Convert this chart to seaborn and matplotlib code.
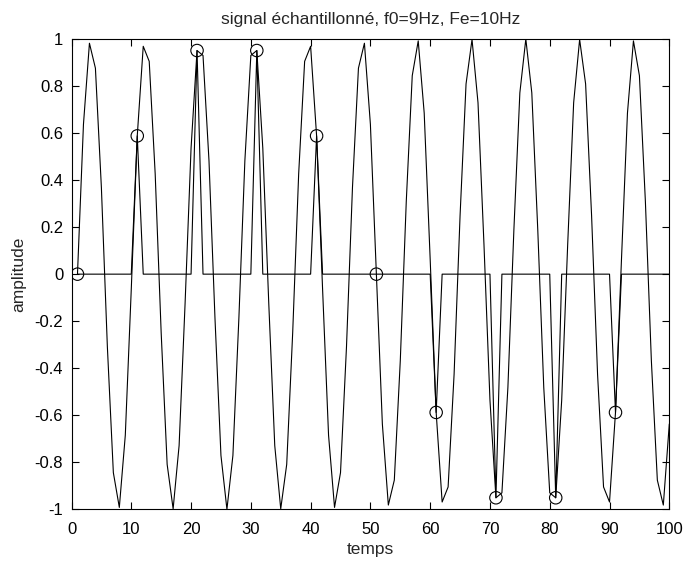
import matplotlib
matplotlib.use("Agg")
import matplotlib.pyplot as plt
import seaborn as sns
import numpy as np
import pandas as pd

# time indices
temps = list(range(1, 101))

# continuous signal
signal = [0.0, 0.637, 0.982, 0.876, 0.368, -0.309, -0.844, -0.992, -0.685, -0.063,
          0.588, 0.969, 0.905, 0.426, -0.249, -0.809, -0.998, -0.729, -0.125, 0.536,
          0.951, 0.930, 0.482, -0.187, -0.771, -1.0, -0.771, -0.187, 0.482, 0.930,
          0.951, 0.536, -0.125, -0.729, -0.998, -0.809, -0.249, 0.426, 0.905, 0.969,
          0.588, -0.063, -0.685, -0.992, -0.844, -0.309, 0.368, 0.876, 0.982, 0.637,
          0.0, -0.637, -0.982, -0.876, -0.368, 0.309, 0.844, 0.992, 0.685, 0.063,
          -0.588, -0.969, -0.905, -0.426, 0.249, 0.809, 0.998, 0.729, 0.125, -0.536,
          -0.951, -0.930, -0.482, 0.187, 0.771, 1.0, 0.771, 0.187, -0.482, -0.930,
          -0.951, -0.536, 0.125, 0.729, 0.998, 0.809, 0.249, -0.426, -0.905, -0.969,
          -0.588, 0.063, 0.685, 0.992, 0.844, 0.309, -0.368, -0.876, -0.982, -0.637]

# sampled points (every 10th index)
ech_temps = [1, 11, 21, 31, 41, 51, 61, 71, 81, 91]
ech_vals = [0.0, 0.588, 0.951, 0.951, 0.588, 0.0, -0.588, -0.951, -0.951, -0.588]

# sampled signal as an array: zero except at sample instants
sampled = [0.0] * len(temps)
for t, v in zip(ech_temps, ech_vals):
    sampled[temps.index(t)] = v

xticks = list(range(0, 101, 10))
yticks = [-1, -0.8, -0.6, -0.4, -0.2, 0, 0.2, 0.4, 0.6, 0.8, 1]
ytick_labels = ["-1", "-0.8", "-0.6", "-0.4", "-0.2", "0", "0.2", "0.4", "0.6", "0.8", "1"]

sns.set_style("white")
plt.rcParams['font.family'] = ['Liberation Sans', 'DejaVu Sans']

fig = plt.figure(figsize=(6.85, 5.61), dpi=100)
ax = fig.add_axes([71.5 / 685, (561 - 509.3) / 561, (669.3 - 71.5) / 685, (509.3 - 39) / 561])

df = pd.DataFrame({"temps": temps, "signal": signal, "sampled": sampled})
df_e = pd.DataFrame({"temps": ech_temps, "val": ech_vals})

sns.lineplot(data=df, x="temps", y="signal", ax=ax, color="black", linewidth=0.8)
sns.lineplot(data=df, x="temps", y="sampled", ax=ax, color="black", linewidth=0.8)
sns.scatterplot(data=df_e, x="temps", y="val", ax=ax, marker="o", s=80,
                facecolors="none", edgecolors="black", linewidth=0.8, zorder=3)

ax.set_xlim(0, 100)
ax.set_ylim(-1, 1)
ax.set_xticks(xticks)
ax.set_xticklabels([str(t) for t in xticks])
ax.set_yticks(yticks)
ax.set_yticklabels(ytick_labels)
ax.tick_params(direction="in", length=5, width=0.8, labelsize=12, colors="black",
               top=True, right=True, bottom=True, left=True)
ax.tick_params(axis="x", pad=9)
ax.tick_params(axis="y", pad=6)
for s in ax.spines.values():
    s.set_visible(True)
    s.set_color("black")
    s.set_linewidth(0.8)

ax.set_title("signal échantillonné, f0=9Hz, Fe=10Hz", fontsize=12.5, pad=11)
ax.set_xlabel("temps", fontsize=12.5, labelpad=4)
ax.set_ylabel("amplitude", fontsize=12.5, labelpad=6)

fig.savefig("out.png", dpi=100, facecolor="white")
